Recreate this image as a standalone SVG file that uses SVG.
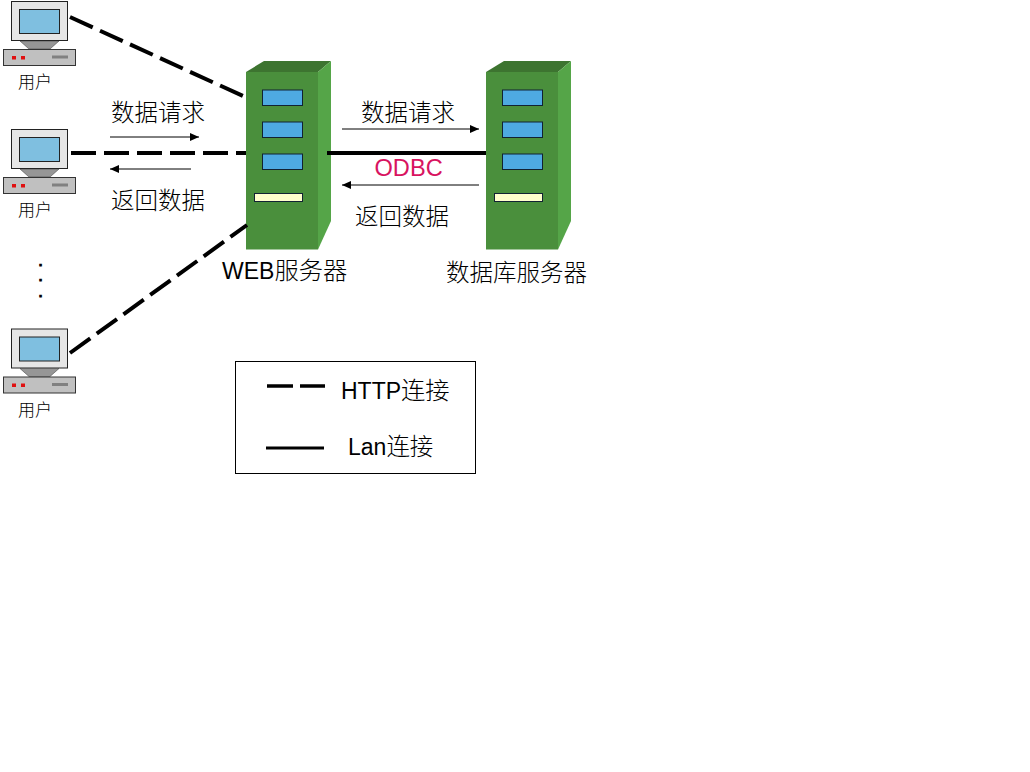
<svg xmlns="http://www.w3.org/2000/svg" width="1030" height="772" viewBox="0 0 1030 772">
<style>
text{font-family:"Liberation Sans","Noto Sans CJK SC",sans-serif;fill:#000;font-size:23px}
.cjk{font-family:"Noto Sans CJK SC",sans-serif;font-weight:300;font-size:23.500px}
.wide{font-size:24.300px}
.u{font-size:17px}
.dash{stroke:#000;stroke-width:4;fill:none;stroke-dasharray:25 8}
.solid{stroke:#000;stroke-width:4;fill:none}
.thin{stroke:#000;stroke-width:1;fill:none}
.bay{fill:#4eaae2;stroke:#123;stroke-width:1}
.dot{font-size:13px;font-weight:700;stroke:#000;stroke-width:.8}
</style>
<defs>
<marker id="ah" markerUnits="userSpaceOnUse" markerWidth="10" markerHeight="8" refX="9" refY="4" orient="auto-start-reverse"><path d="M0 0L9 4L0 8Z" fill="#000"/></marker>
<g id="pc">
<rect x="11.500" y="1.500" width="56" height="39" fill="#e6e6e6" stroke="#222"/>
<rect x="19.500" y="9.500" width="40" height="24" fill="#7fbfe0" stroke="#222"/>
<path d="M20 41H59L50 49H29Z" fill="#969696" stroke="#333" stroke-width=".5"/>
<rect x="3.500" y="49.500" width="72" height="16" fill="#c0c0c0" stroke="#333"/>
<rect x="12" y="56" width="4" height="3.500" fill="#e01010"/><rect x="21" y="56" width="4" height="3.500" fill="#e01010"/>
<rect x="52" y="55.500" width="16" height="3" fill="#808080"/>
<text class="cjk u" x="18" y="88">用户</text>
</g>
<g id="srv">
<rect x="246" y="72" width="72" height="177.500" fill="#4a8f3c"/>
<path d="M246 72L264 61H331L318 72Z" fill="#3d7430"/>
<path d="M318 72L331 61V221L318 249.500Z" fill="#55a548"/>
<rect class="bay" x="262.500" y="90" width="40" height="15.500"/>
<rect class="bay" x="262.500" y="122" width="40" height="15.500"/>
<rect class="bay" x="262.500" y="154" width="40" height="15.500"/>
<rect x="254.500" y="193.500" width="48" height="8" fill="#ffffcc" stroke="#123"/>
</g>
</defs>
<rect width="1030" height="772" fill="#fff"/>
<g id="user1"><use href="#pc"/></g>
<g id="user2"><use href="#pc" y="128"/></g>
<g id="user3"><use href="#pc" y="327.500"/></g>
<g id="web-server"><use href="#srv"/><text x="222" y="279">WEB<tspan class="cjk wide">服务器</tspan></text></g>
<g id="db-server"><use href="#srv" x="240"/><text class="cjk" x="446" y="281">数据库服务器</text></g>
<g id="connectors">
<path class="dash" d="M70 17L243 96"/>
<path class="dash" d="M71 153H246"/>
<path class="dash" d="M70 353L247 225"/>
<path class="solid" d="M327 153H486"/>
<path class="thin" d="M110 137H199" marker-end="url(#ah)"/>
<path class="thin" d="M191 169H110" marker-end="url(#ah)"/>
<path class="thin" d="M342 129H479" marker-end="url(#ah)"/>
<path class="thin" d="M479 185H342" marker-end="url(#ah)"/>
</g>
<g id="labels">
<text class="cjk" x="111" y="120.500">数据请求</text>
<text class="cjk" x="111" y="208.500">返回数据</text>
<text class="cjk" x="361" y="120.500">数据请求</text>
<text class="cjk" x="355" y="224.500">返回数据</text>
<text x="374.500" y="176" style="fill:#d8135f;font-size:23.600px">ODBC</text>
<text class="dot" x="38.700" y="265.500">.</text>
<text class="dot" x="38.700" y="281">.</text>
<text class="dot" x="38.700" y="297">.</text>
</g>
<g id="legend">
<rect x="235.500" y="361.500" width="240" height="112" fill="#fff" stroke="#000"/>
<path d="M267 386H325" stroke="#000" stroke-width="3.500" stroke-dasharray="26 7"/>
<path d="M266 448H324" stroke="#000" stroke-width="3"/>
<text x="341" y="398.500">HTTP<tspan class="cjk wide">连接</tspan></text>
<text x="348" y="454.500">Lan<tspan class="cjk">连接</tspan></text>
</g>
</svg>
